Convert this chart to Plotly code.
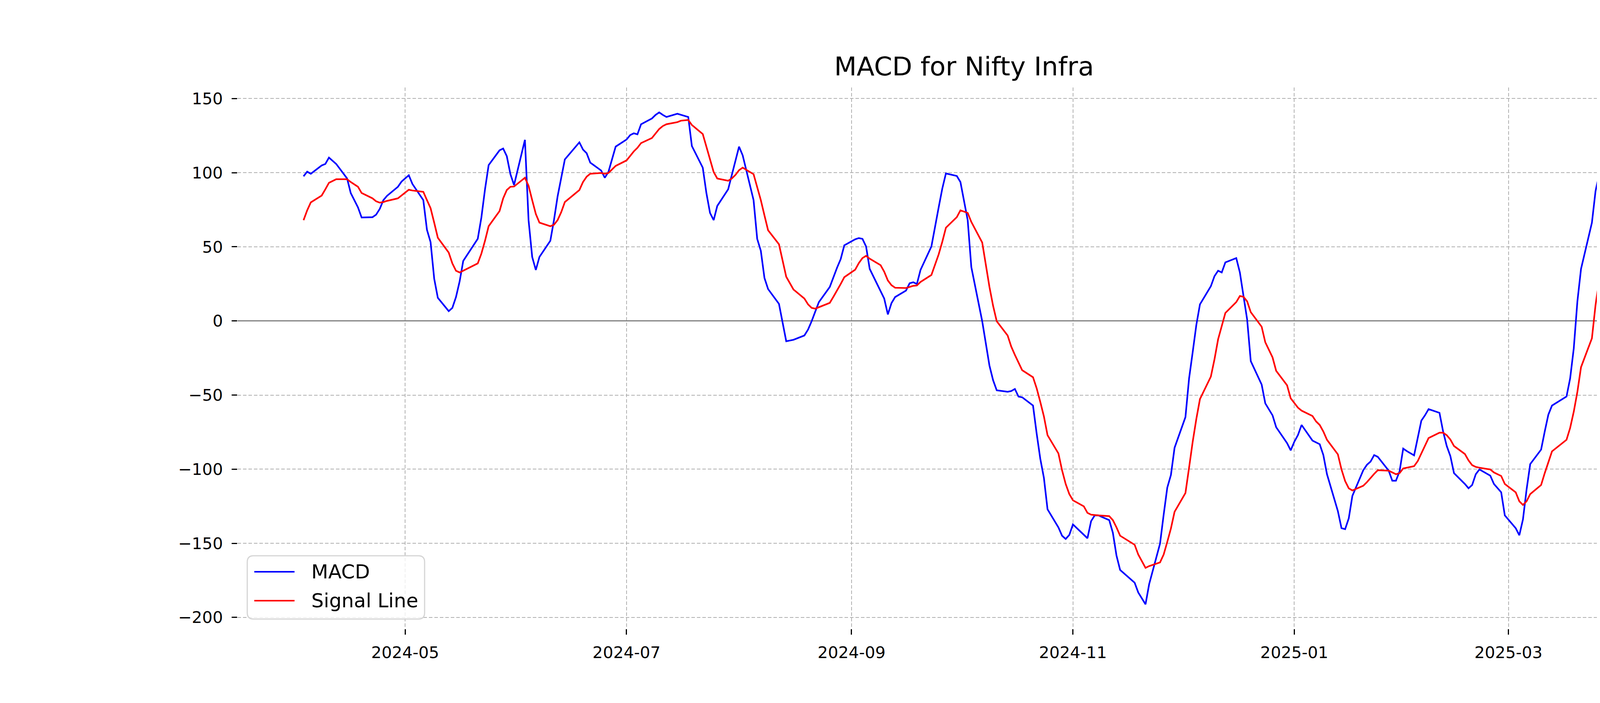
import plotly.graph_objects as go

dates = [
    "2024-04-03", "2024-04-04", "2024-04-05", "2024-04-08", "2024-04-09", "2024-04-10", "2024-04-12",
    "2024-04-15", "2024-04-16", "2024-04-18", "2024-04-19", "2024-04-22", "2024-04-23", "2024-04-24",
    "2024-04-25", "2024-04-26", "2024-04-29", "2024-04-30",
    "2024-05-02", "2024-05-03", "2024-05-06", "2024-05-07", "2024-05-08", "2024-05-09", "2024-05-10",
    "2024-05-13", "2024-05-14", "2024-05-15", "2024-05-16", "2024-05-17", "2024-05-21", "2024-05-22",
    "2024-05-23", "2024-05-24", "2024-05-27", "2024-05-28", "2024-05-29", "2024-05-30", "2024-05-31",
    "2024-06-03", "2024-06-04", "2024-06-05", "2024-06-06", "2024-06-07", "2024-06-10", "2024-06-11",
    "2024-06-12", "2024-06-13", "2024-06-14", "2024-06-18", "2024-06-19", "2024-06-20", "2024-06-21",
    "2024-06-24", "2024-06-25", "2024-06-26", "2024-06-27", "2024-06-28",
    "2024-07-01", "2024-07-02", "2024-07-03", "2024-07-04", "2024-07-05", "2024-07-08", "2024-07-09",
    "2024-07-10", "2024-07-11", "2024-07-12", "2024-07-15", "2024-07-16", "2024-07-18", "2024-07-19",
    "2024-07-22", "2024-07-23", "2024-07-24", "2024-07-25", "2024-07-26", "2024-07-29", "2024-07-30",
    "2024-07-31",
    "2024-08-01", "2024-08-02", "2024-08-05", "2024-08-06", "2024-08-07", "2024-08-08", "2024-08-09",
    "2024-08-12", "2024-08-13", "2024-08-14", "2024-08-16", "2024-08-19", "2024-08-20", "2024-08-21",
    "2024-08-22", "2024-08-23", "2024-08-26", "2024-08-27", "2024-08-28", "2024-08-29", "2024-08-30",
    "2024-09-02", "2024-09-03", "2024-09-04", "2024-09-05", "2024-09-06", "2024-09-09", "2024-09-10",
    "2024-09-11", "2024-09-12", "2024-09-13", "2024-09-16", "2024-09-17", "2024-09-18", "2024-09-19",
    "2024-09-20", "2024-09-23", "2024-09-24", "2024-09-25", "2024-09-26", "2024-09-27", "2024-09-30",
    "2024-10-01", "2024-10-03", "2024-10-04", "2024-10-07", "2024-10-08", "2024-10-09", "2024-10-10",
    "2024-10-11", "2024-10-14", "2024-10-15", "2024-10-16", "2024-10-17", "2024-10-18", "2024-10-21",
    "2024-10-22", "2024-10-23", "2024-10-24", "2024-10-25", "2024-10-28", "2024-10-29", "2024-10-30",
    "2024-10-31",
    "2024-11-01", "2024-11-04", "2024-11-05", "2024-11-06", "2024-11-07", "2024-11-08", "2024-11-11",
    "2024-11-12", "2024-11-13", "2024-11-14", "2024-11-18", "2024-11-19", "2024-11-21", "2024-11-22",
    "2024-11-25", "2024-11-26", "2024-11-27", "2024-11-28", "2024-11-29",
    "2024-12-02", "2024-12-03", "2024-12-04", "2024-12-05", "2024-12-06", "2024-12-09", "2024-12-10",
    "2024-12-11", "2024-12-12", "2024-12-13", "2024-12-16", "2024-12-17", "2024-12-18", "2024-12-19",
    "2024-12-20", "2024-12-23", "2024-12-24", "2024-12-26", "2024-12-27", "2024-12-30", "2024-12-31",
    "2025-01-01", "2025-01-02", "2025-01-03", "2025-01-06", "2025-01-07", "2025-01-08", "2025-01-09",
    "2025-01-10", "2025-01-13", "2025-01-14", "2025-01-15", "2025-01-16", "2025-01-17", "2025-01-20",
    "2025-01-21", "2025-01-22", "2025-01-23", "2025-01-24", "2025-01-27", "2025-01-28", "2025-01-29",
    "2025-01-30", "2025-01-31",
    "2025-02-01", "2025-02-03", "2025-02-04", "2025-02-05", "2025-02-06", "2025-02-07", "2025-02-10",
    "2025-02-11", "2025-02-12", "2025-02-13", "2025-02-14", "2025-02-17", "2025-02-18", "2025-02-19",
    "2025-02-20", "2025-02-21", "2025-02-24", "2025-02-25", "2025-02-27", "2025-02-28",
    "2025-03-03", "2025-03-04", "2025-03-05", "2025-03-06", "2025-03-07", "2025-03-10", "2025-03-11",
    "2025-03-12", "2025-03-13", "2025-03-17", "2025-03-18", "2025-03-19", "2025-03-20", "2025-03-21",
    "2025-03-24", "2025-03-25", "2025-03-26", "2025-03-27", "2025-03-28",
    "2025-04-01", "2025-04-02",
]

macd = [
    97.6, 100.7, 99.3, 104.9, 105.9, 110.2, 105.9,
    96.1, 86.3, 76.6, 69.8, 70.0, 71.7, 75.6,
    81.5, 84.4, 90.5, 94.0,
    98.3, 92.4, 81.5, 61.5, 53.2, 28.5, 15.6,
    6.6, 8.8, 16.1, 26.6, 40.5, 55.4, 69.8,
    88.8, 105.1, 115.1, 116.3, 111.2, 99.0, 91.7,
    122.2, 68.0, 43.2, 34.4, 43.2, 54.1, 68.0,
    84.0, 96.0, 109.0, 120.5, 115.6, 113.2, 106.8,
    101.5, 96.6, 100.5, 109.5, 117.6,
    122.4, 125.4, 126.6, 125.9, 132.7, 136.6, 139.0,
    140.7, 139.0, 137.6, 139.8, 139.0, 137.6, 118.0,
    103.4, 86.3, 72.9, 68.0, 77.6, 88.8, 98.5,
    108.3,
    117.6, 111.7, 81.5, 55.4, 47.3, 29.0, 21.5,
    11.5, -1.5, -13.7, -12.7, -9.8, -5.9, -0.2,
    6.3, 12.7, 22.9, 29.8, 35.9, 41.7, 51.0,
    55.1, 55.9, 55.4, 50.2, 35.1, 20.5, 15.1,
    4.4, 12.0, 16.1, 20.5, 25.4, 26.1, 24.9,
    34.4, 50.2, 63.9, 76.6, 89.3, 99.5, 97.8,
    93.7, 68.0, 36.3, -0.2, -16.1, -30.2, -40.0,
    -46.8, -47.8, -47.3, -45.9, -51.0, -51.5, -57.1,
    -75.9, -92.9, -105.9, -127.1, -139.3, -144.9, -147.1,
    -144.4,
    -137.3, -144.1, -146.6, -135.1, -131.2, -131.2, -134.4,
    -142.9, -158.3, -168.0, -176.6, -183.2, -191.2, -177.6,
    -150.2, -130.7, -112.4, -103.9, -85.6,
    -64.9, -38.8, -21.0, -2.7, 11.2, 23.4, 30.2,
    33.9, 32.7, 39.5, 42.4, 32.7, 16.8, 1.0,
    -27.1, -42.9, -55.6, -63.7, -71.7, -82.4, -87.3,
    -81.5, -77.0, -70.2, -80.7, -82.0, -83.2, -90.5,
    -103.4, -128.3, -139.8, -140.5, -133.2, -118.0, -100.7,
    -97.1, -94.9, -90.5, -91.7, -101.0, -107.8, -107.8,
    -101.5, -86.1,
    -87.8, -90.7, -79.5, -67.3, -63.7, -59.5, -62.0,
    -74.6, -84.4, -91.2, -102.7, -110.0, -112.9, -110.7,
    -103.4, -100.2, -104.4, -110.0, -115.6, -131.2,
    -139.8, -144.6, -133.9, -113.7, -96.6, -86.8, -74.6,
    -63.2, -57.1, -51.0, -38.8, -18.5, 13.2, 35.1,
    66.3, 87.6, 99.0, 110.7, 117.8,
    116.3, 117.3,
]

signal = [
    68.0, 74.6, 80.0, 84.6, 88.8, 93.2, 95.6,
    95.6, 93.7, 90.5, 86.3, 82.7, 80.7, 79.8,
    80.2, 81.0, 82.7, 84.6,
    88.5, 88.0, 87.1, 81.5, 76.1, 66.3, 56.1,
    46.1, 38.8, 33.9, 32.7, 33.9, 38.8, 45.4,
    54.1, 63.9, 74.1, 82.7, 88.3, 90.5, 90.7,
    96.6, 91.2, 81.5, 72.2, 66.3, 63.9, 64.9,
    68.0, 73.4, 80.2, 88.3, 93.7, 97.3, 99.3,
    99.8, 99.3, 99.8, 102.2, 104.6,
    108.3, 111.2, 114.4, 116.8, 120.0, 123.4, 126.3,
    129.5, 131.5, 132.7, 134.1, 135.1, 135.6, 132.2,
    126.1, 117.3, 108.8, 100.5, 96.1, 94.6, 96.1,
    98.5,
    101.7, 103.4, 99.0, 90.0, 81.5, 71.2, 61.2,
    51.7, 40.5, 29.8, 21.2, 15.1, 11.2, 8.8,
    8.3, 9.3, 12.2, 16.3, 20.5, 24.9, 29.5,
    34.6, 39.0, 42.4, 43.9, 42.0, 37.6, 33.2,
    27.3, 24.1, 22.4, 22.2, 22.9, 23.7, 23.9,
    26.3, 31.0, 37.6, 44.9, 53.4, 62.9, 70.0,
    74.6, 72.9, 66.8, 52.9, 37.6, 22.9, 10.2,
    -0.2, -9.8, -17.3, -22.9, -28.3, -33.2, -38.0,
    -45.4, -54.6, -64.4, -77.1, -89.4, -100.7, -110.0,
    -116.8,
    -121.0, -125.1, -129.5, -130.7, -131.0, -131.2, -131.7,
    -134.4, -139.3, -144.9, -151.0, -157.6, -166.6, -165.4,
    -162.9, -157.6, -149.0, -140.0, -128.8,
    -116.1, -99.0, -81.5, -66.1, -52.7, -37.6, -25.9,
    -12.4, -3.9, 5.4, 12.7, 16.8, 16.3, 13.2,
    5.9, -3.9, -14.4, -24.6, -33.7, -43.4, -52.2,
    -55.5, -58.5, -60.5, -64.1, -67.8, -70.2, -74.6,
    -80.2, -90.0, -100.2, -108.0, -112.9, -114.4, -111.2,
    -108.8, -105.9, -103.2, -100.7, -101.0, -102.2, -103.4,
    -102.7, -99.5,
    -99.0, -98.0, -94.6, -89.3, -84.4, -79.0, -75.4,
    -75.4, -77.1, -80.0, -84.4, -89.8, -94.1, -97.3,
    -98.5, -99.0, -100.2, -102.2, -104.6, -110.0,
    -115.6, -121.7, -124.1, -121.7, -116.8, -110.7, -102.7,
    -95.4, -88.0, -80.2, -72.2, -61.2, -47.8, -31.2,
    -11.7, 10.7, 27.8, 42.4, 57.8,
    69.8, 79.5,
]

series_names = ["MACD", "Signal Line"]
series_colors = ["blue", "red"]

xtick_vals = ["2024-05-01", "2024-07-01", "2024-09-01", "2024-11-01", "2025-01-01", "2025-03-01"]
xtick_text = ["2024-05", "2024-07", "2024-09", "2024-11", "2025-01", "2025-03"]
ytick_vals = [-200, -150, -100, -50, 0, 50, 100, 150]

FONT = "DejaVu Sans"
W, H = 4800, 1800
L, R, T, B = 600, 480, 216, 198
PW, PH = W - L - R, H - T - B


def px_x(px):
    return (px - L) / PW


def px_y(py):
    return (H - B - py) / PH


fig = go.Figure()
for name, vals, col in zip(series_names, [macd, signal], series_colors):
    fig.add_trace(go.Scatter(x=dates, y=vals, mode="lines", name=name,
                             line=dict(color=col, width=4.2), showlegend=False))

# legend box (matplotlib-style, rounded frame)
bx0, bx1, by0, by1, rad = 625, 1079, 1415, 1577, 16
def P(x, y):
    return f"{px_x(x):.6f},{px_y(y):.6f}"
path = (f"M {P(bx0 + rad, by0)} L {P(bx1 - rad, by0)} Q {P(bx1, by0)} {P(bx1, by0 + rad)} "
        f"L {P(bx1, by1 - rad)} Q {P(bx1, by1)} {P(bx1 - rad, by1)} "
        f"L {P(bx0 + rad, by1)} Q {P(bx0, by1)} {P(bx0, by1 - rad)} "
        f"L {P(bx0, by0 + rad)} Q {P(bx0, by0)} {P(bx0 + rad, by0)} Z")
shapes = [dict(type="path", path=path, xref="paper", yref="paper",
               fillcolor="rgba(255,255,255,0.8)", line=dict(color="#d5d5d5", width=3), layer="above")]
annotations = []
for name, col, ly in zip(series_names, series_colors, [1456, 1530]):
    shapes.append(dict(type="line", xref="paper", yref="paper",
                       x0=px_x(643), x1=px_x(746), y0=px_y(ly), y1=px_y(ly),
                       line=dict(color=col, width=4.2), layer="above"))
    annotations.append(dict(text=name, xref="paper", yref="paper", x=px_x(787), y=px_y(ly),
                            xanchor="left", yanchor="middle", showarrow=False,
                            font=dict(family=FONT, size=50, color="black")))

fig.update_layout(
    width=W, height=H,
    margin=dict(l=L, r=R, t=T, b=B, autoexpand=False),
    paper_bgcolor="white", plot_bgcolor="white",
    font=dict(family=FONT, color="black", size=41.7),
    title=dict(text="MACD for Nifty Infra", font=dict(family=FONT, size=66.7, color="black"),
               x=(L + PW / 2) / W, xanchor="center", xref="container",
               y=1 - 162 / H, yanchor="middle", yref="container"),
    showlegend=False,
    shapes=shapes,
    annotations=annotations,
)

fig.update_xaxes(
    type="date",
    range=["2024-03-15T19:12:00", "2025-04-20T04:48:00"],
    tickmode="array", tickvals=xtick_vals, ticktext=xtick_text,
    showgrid=True, gridcolor="#b0b0b0", gridwidth=2, griddash="9px,5px",
    showline=False, zeroline=False,
    ticks="outside", ticklen=14, tickwidth=3, tickcolor="black",
    tickfont=dict(family=FONT, size=41.7, color="black"),
    ticklabelstandoff=10,
)
fig.update_yaxes(
    range=[-207.7, 157.5],
    tickmode="array", tickvals=ytick_vals,
    showgrid=True, gridcolor="#b0b0b0", gridwidth=2, griddash="9px,5px",
    showline=False,
    zeroline=True, zerolinecolor="gray", zerolinewidth=3,
    ticks="outside", ticklen=14, tickwidth=3, tickcolor="black",
    tickfont=dict(family=FONT, size=41.7, color="black"),
    ticklabelstandoff=14,
)

fig.write_html("out.html")
